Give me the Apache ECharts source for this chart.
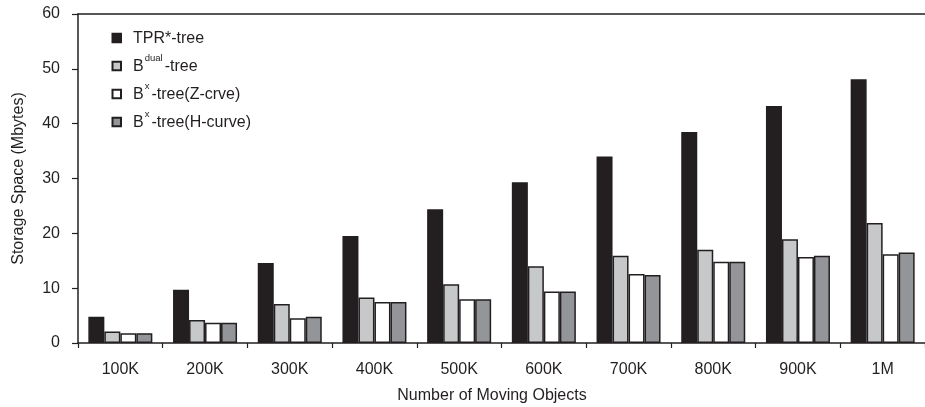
<!DOCTYPE html>
<html>
<head>
<meta charset="utf-8">
<script src="https://cdn.jsdelivr.net/npm/echarts@6/dist/echarts.min.js"></script>
<style>
  html, body { margin: 0; padding: 0; background: #fff; }
  #chart { width: 925px; height: 407px; }
</style>
</head>
<body>
<div id="chart"></div>
<script>
// Number of moving objects on the x axis
const categories = ['100K', '200K', '300K', '400K', '500K', '600K', '700K', '800K', '900K', '1M'];

// Storage space in Mbytes for each index structure
const tprTree    = [4.8, 9.7, 14.6, 19.5, 24.4, 29.3, 34.0, 38.5, 43.2, 48.1];
const bDualTree  = [2.1, 4.2, 7.1, 8.3, 10.7, 14.0, 15.9, 17.0, 18.9, 21.9];
const bxZCurve   = [1.8, 3.7, 4.5, 7.5, 8.0, 9.4, 12.6, 14.8, 15.7, 16.2];
const bxHCurve   = [1.8, 3.7, 4.8, 7.5, 8.0, 9.4, 12.4, 14.8, 15.9, 16.5];

const yTicks = { min: 0, max: 60, interval: 10 };

const ink = '#231f20';
const font = '"Liberation Sans", Arial, sans-serif';

function barSeries(name, data, color) {
  return {
    name: name,
    type: 'bar',
    data: data,
    barWidth: 16,
    barGap: '0%',
    itemStyle: { color: color, borderColor: ink, borderWidth: 1.5 },
    emphasis: { disabled: true }
  };
}

const chart = echarts.init(document.getElementById('chart'), null, { renderer: 'canvas' });

chart.setOption({
  animation: false,
  textStyle: { fontFamily: font, color: ink },
  grid: { left: 78, right: -3, top: 14, bottom: 64 },
  legend: {
    orient: 'vertical',
    left: 111.5,
    top: 31,
    padding: 0,
    itemWidth: 8.5,
    itemHeight: 8.5,
    itemGap: 6,
    icon: 'rect',
    textStyle: {
      fontFamily: font,
      fontSize: 16,
      color: ink,
      rich: {
        g: { width: 7, lineHeight: 18, verticalAlign: 'bottom' },
        b: { fontFamily: font, fontSize: 16, color: ink, lineHeight: 18, verticalAlign: 'bottom' },
        sup: { fontFamily: font, fontSize: 9.5, color: ink, lineHeight: 10, verticalAlign: 'bottom', padding: [0, 2, 12, 1] }
      }
    },
    formatter: function (name) {
      if (name === 'TPR*-tree') return '{g|}{b|TPR*-tree}';
      if (name === 'Bdual-tree') return '{g|}{b|B}{sup|dual}{b|-tree}';
      if (name === 'Bx-tree(Z-crve)') return '{g|}{b|B}{sup|x}{b|-tree(Z-crve)}';
      return '{g|}{b|B}{sup|x}{b|-tree(H-curve)}';
    },
    data: ['TPR*-tree', 'Bdual-tree', 'Bx-tree(Z-crve)', 'Bx-tree(H-curve)']
  },
  xAxis: [
    {
      type: 'category',
      data: categories,
      axisLine: { lineStyle: { color: ink, width: 1.5 } },
      axisTick: { show: true, length: 5, lineStyle: { color: ink, width: 1.2 } },
      axisLabel: { color: ink, fontSize: 16, margin: 19, fontFamily: font },
      splitLine: { show: false }
    },
    {
      type: 'category',
      data: categories,
      position: 'top',
      axisLine: { lineStyle: { color: ink, width: 1.5 } },
      axisTick: { show: false },
      axisLabel: { show: false },
      splitLine: { show: false }
    }
  ],
  yAxis: {
    type: 'value',
    min: yTicks.min,
    max: yTicks.max,
    interval: yTicks.interval,
    name: 'Storage Space (Mbytes)',
    nameLocation: 'middle',
    nameGap: 51,
    nameTextStyle: { fontSize: 16, color: ink, fontFamily: font },
    axisLine: { show: true, lineStyle: { color: ink, width: 1.5 } },
    axisTick: { show: true, length: 6, lineStyle: { color: ink, width: 1.2 } },
    axisLabel: { color: ink, fontSize: 16, margin: 18, fontFamily: font },
    splitLine: { show: false }
  },
  graphic: [
    {
      type: 'text',
      x: 492,
      y: 396,
      style: {
        text: 'Number of Moving Objects',
        font: '16px ' + font,
        fill: ink,
        align: 'center',
        verticalAlign: 'middle'
      }
    }
  ],
  series: [
    barSeries('TPR*-tree', tprTree, ink),
    barSeries('Bdual-tree', bDualTree, '#c7c8ca'),
    barSeries('Bx-tree(Z-crve)', bxZCurve, '#ffffff'),
    barSeries('Bx-tree(H-curve)', bxHCurve, '#939598')
  ]
});
</script>
</body>
</html>
